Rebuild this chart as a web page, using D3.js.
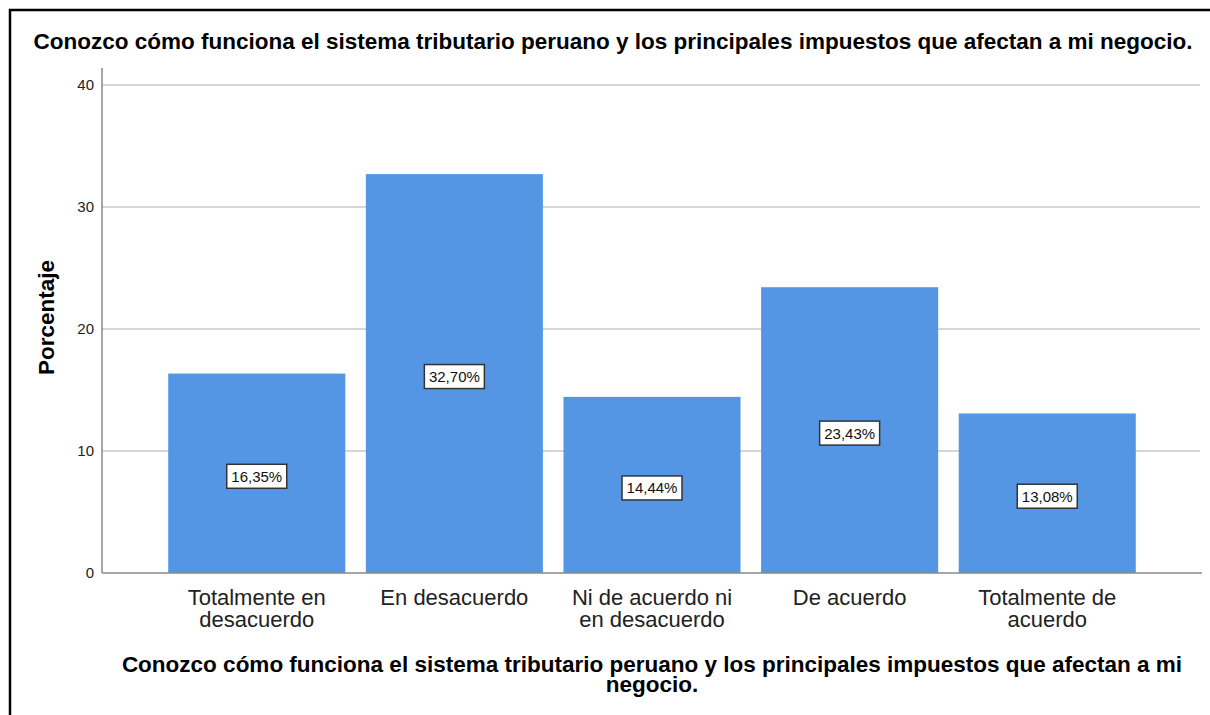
<!DOCTYPE html>
<meta charset="utf-8">
<style>
body { margin: 0; background: #fff; }
svg { display: block; font-family: "Liberation Sans", Arial, sans-serif; }
</style>
<svg width="1210" height="715"></svg>
<script src="https://d3js.org/d3.v7.min.js"></script>
<script>

var categories = [
    ["Totalmente en", "desacuerdo"],
    ["En desacuerdo"],
    ["Ni de acuerdo ni", "en desacuerdo"],
    ["De acuerdo"],
    ["Totalmente de", "acuerdo"]
];
var values = [16.35, 32.70, 14.44, 23.43, 13.08];
var yTicks = [0, 10, 20, 30, 40];
var title = "Conozco cómo funciona el sistema tributario peruano y los principales impuestos que afectan a mi negocio.";
var xTitle = ["Conozco cómo funciona el sistema tributario peruano y los principales impuestos que afectan a mi", "negocio."];
var yTitle = "Porcentaje";

var svg = d3.select("svg");

// outer frame
svg.append("rect")
    .attr("x", 10).attr("y", 10)
    .attr("width", 1210).attr("height", 720)
    .attr("fill", "none")
    .attr("stroke", "#000")
    .attr("stroke-width", 2.5);

var pLeft = 102, pRight = 1202, pTop = 68, pBottom = 573;

var x = d3.scaleBand()
    .domain(d3.range(values.length))
    .range([pLeft, pRight])
    .paddingInner(0.104)
    .paddingOuter(0.335);

var y = d3.scaleLinear()
    .domain([0, 41.4])
    .range([pBottom, pTop]);

// gridlines
svg.append("g")
    .selectAll("line")
    .data(yTicks.slice(1))
    .enter().append("line")
    .attr("x1", pLeft).attr("x2", pRight - 2)
    .attr("y1", function(d) { return y(d); })
    .attr("y2", function(d) { return y(d); })
    .attr("stroke", "#c8c8c8")
    .attr("stroke-width", 1.5);

// bars
svg.append("g")
    .selectAll("rect")
    .data(values)
    .enter().append("rect")
    .attr("x", function(d, i) { return x(i); })
    .attr("y", function(d) { return y(d); })
    .attr("width", x.bandwidth())
    .attr("height", function(d) { return y(0) - y(d); })
    .attr("fill", "#5596e4");

// y axis
var yAxis = svg.append("g")
    .attr("transform", "translate(" + pLeft + ",0)")
    .call(d3.axisLeft(y).tickValues(yTicks).tickSize(0).tickPadding(8));
yAxis.select(".domain").remove();
yAxis.selectAll("text")
    .attr("font-size", 15)
    .attr("font-family", "Liberation Sans, Arial, sans-serif")
    .attr("fill", "#222");
svg.append("line")
    .attr("x1", pLeft).attr("x2", pLeft)
    .attr("y1", pTop).attr("y2", pBottom)
    .attr("stroke", "#888").attr("stroke-width", 1.5);

// x axis line
svg.append("line")
    .attr("x1", pLeft).attr("x2", pRight)
    .attr("y1", pBottom).attr("y2", pBottom)
    .attr("stroke", "#888").attr("stroke-width", 1.5);

// x category labels
var xl = svg.append("g").selectAll("text")
    .data(categories)
    .enter().append("text")
    .attr("x", function(d, i) { return x(i) + x.bandwidth() / 2; })
    .attr("y", 605)
    .attr("text-anchor", "middle")
    .attr("font-size", 22)
    .attr("fill", "#222");
xl.selectAll("tspan")
    .data(function(d) { return d; })
    .enter().append("tspan")
    .attr("x", function() { return this.parentNode.getAttribute("x"); })
    .attr("dy", function(d, i) { return i ? 22 : 0; })
    .text(function(d) { return d; });

// value labels
var lab = svg.append("g").selectAll("g")
    .data(values)
    .enter().append("g")
    .attr("transform", function(d, i) {
        return "translate(" + (x(i) + x.bandwidth() / 2) + "," + (y(d / 2) + 3) + ")";
    });
lab.append("rect")
    .attr("x", -30).attr("y", -12)
    .attr("width", 60).attr("height", 24)
    .attr("fill", "#fff")
    .attr("stroke", "#333")
    .attr("stroke-width", 1.5);
lab.append("text")
    .attr("text-anchor", "middle")
    .attr("y", 5.5)
    .attr("font-size", 15)
    .attr("fill", "#111")
    .text(function(d) { return d.toFixed(2).replace(".", ",") + "%"; });

// titles
svg.append("text")
    .attr("x", 613).attr("y", 49)
    .attr("text-anchor", "middle")
    .attr("font-size", 22.5)
    .attr("font-weight", "bold")
    .text(title);

svg.append("text")
    .attr("transform", "translate(54," + ((pTop + pBottom) / 2 - 3) + ") rotate(-90)")
    .attr("text-anchor", "middle")
    .attr("font-size", 22.5)
    .attr("font-weight", "bold")
    .text(yTitle);

svg.append("g").selectAll("text")
    .data(xTitle)
    .enter().append("text")
    .attr("x", 652)
    .attr("y", function(d, i) { return 672 + i * 20; })
    .attr("text-anchor", "middle")
    .attr("font-size", 22.5)
    .attr("font-weight", "bold")
    .text(function(d) { return d; });

</script>
